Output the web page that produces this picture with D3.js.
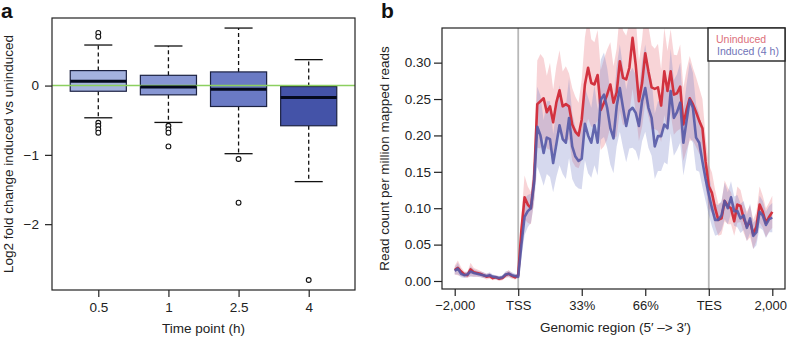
<!DOCTYPE html>
<html><head><meta charset="utf-8">
<script src="https://cdn.jsdelivr.net/npm/d3@7"></script>
<style>body{margin:0;background:#fff}svg{display:block}text{font-family:"Liberation Sans",Arial,sans-serif}</style>
</head><body>
<script>
// ---------- Panel a data ----------
const timeLabels = ["0.5", "1", "2.5", "4"];
const q1 = [-0.082, -0.134, -0.302, -0.58];
const medians = [0.062, -0.019, -0.053, -0.173];
const q3 = [0.216, 0.148, 0.197, -0.014];
const whiskerLow = [-0.465, -0.532, -0.983, -1.386];
const whiskerHigh = [0.585, 0.571, 0.83, 0.374];
const outliers = [[0.76, 0.705, -0.537, -0.58, -0.63, -0.68], [-0.58, -0.63, -0.68, -0.878], [-1.06, -1.69], [-2.806]];
const boxColors = ["#a4b2df", "#8796d3", "#6a7ac4", "#4453a8"];
const yTicksA = [-2, -1, 0];

// ---------- Panel b data ----------
const xTickLabels = ["\u22122,000", "TSS", "33%", "66%", "TES", "2,000"];
const yTicksB = [0, 0.05, 0.10, 0.15, 0.20, 0.25, 0.30];
const uninduced = [0.015,0.018,0.013,0.009,0.008,0.016,0.012,0.011,0.010,0.008,0.006,0.007,0.004,0.005,0.003,0.004,0.008,0.010,0.007,0.005,0.008,
 0.070,0.115,0.105,0.100,0.140,0.243,0.247,0.251,0.232,0.240,0.218,0.245,0.262,0.240,0.243,0.240,0.215,0.205,0.200,0.222,0.270,0.293,0.272,0.270,0.283,
 0.235,0.245,0.256,0.270,0.245,0.259,0.302,0.279,0.277,0.293,0.334,0.297,0.247,0.272,0.313,0.288,0.266,0.264,0.266,0.241,0.288,0.261,0.288,0.256,0.258,0.267,0.215,0.235,0.251,0.243,0.232,0.220,0.210,0.164,
 0.130,0.121,0.100,0.084,0.086,0.110,0.103,0.100,0.082,0.105,0.103,0.086,0.075,0.082,0.064,0.075,0.105,0.095,0.080,0.088,0.095];
const induced = [0.014,0.017,0.010,0.008,0.009,0.013,0.011,0.010,0.009,0.008,0.007,0.008,0.006,0.005,0.004,0.005,0.009,0.010,0.008,0.007,0.006,
 0.050,0.088,0.096,0.100,0.135,0.212,0.200,0.176,0.197,0.195,0.162,0.188,0.214,0.195,0.190,0.224,0.185,0.171,0.165,0.168,0.216,0.200,0.190,0.214,
 0.190,0.249,0.256,0.238,0.210,0.196,0.240,0.265,0.238,0.213,0.234,0.238,0.231,0.213,0.247,0.265,0.238,0.224,0.185,0.199,0.199,0.215,0.210,0.261,0.224,0.232,
 0.245,0.190,0.220,0.249,0.238,0.197,0.190,0.164,0.140,0.119,0.100,0.084,0.084,0.090,0.110,0.100,0.115,0.096,0.096,0.086,0.090,0.073,0.086,0.062,0.067,0.095,0.090,0.077,0.085,0.087];
const uninducedErr = [0.006,0.010,0.006,0.004,0.004,0.009,0.006,0.005,0.004,0.004,0.004,0.004,0.003,0.003,0.003,0.003,0.004,0.005,0.004,0.003,0.004,
 0.020,0.030,0.025,0.022,0.030,0.060,0.065,0.055,0.050,0.060,0.045,0.050,0.055,0.048,0.052,0.045,0.050,0.048,0.045,0.055,0.065,0.070,0.060,0.058,0.062,
 0.055,0.060,0.062,0.058,0.050,0.060,0.068,0.065,0.060,0.062,0.070,0.065,0.055,0.060,0.068,0.062,0.058,0.055,0.060,0.050,0.060,0.055,0.058,0.055,0.052,0.058,0.050,0.055,0.058,0.050,0.048,0.045,0.040,0.035,
 0.030,0.028,0.025,0.022,0.022,0.028,0.025,0.022,0.020,0.025,0.022,0.020,0.020,0.022,0.020,0.020,0.025,0.022,0.020,0.020,0.022];
const inducedErr = [0.005,0.008,0.005,0.004,0.004,0.007,0.005,0.004,0.004,0.004,0.003,0.004,0.003,0.003,0.003,0.003,0.004,0.004,0.004,0.003,0.003,
 0.018,0.025,0.022,0.020,0.028,0.055,0.055,0.045,0.050,0.052,0.040,0.045,0.055,0.048,0.050,0.055,0.045,0.040,0.038,0.042,0.050,0.052,0.048,0.055,0.045,
 0.055,0.058,0.055,0.050,0.048,0.055,0.060,0.055,0.050,0.052,0.055,0.052,0.048,0.055,0.060,0.055,0.052,0.045,0.048,0.048,0.052,0.050,0.058,0.052,0.052,0.055,0.045,0.050,0.052,0.048,0.045,0.040,0.035,0.030,
 0.028,0.025,0.022,0.020,0.020,0.025,0.022,0.022,0.020,0.022,0.020,0.020,0.018,0.020,0.018,0.018,0.022,0.020,0.018,0.018,0.020];

const W = 788, H = 338;
const svg = d3.select("body").append("svg").attr("width", W).attr("height", H);
const FS = 13.5;

// ================= Panel a =================
const A = {l: 52, r: 355, t: 18, b: 290};
const xA = d3.scaleLinear().domain([0.34, 4.66]).range([A.l, A.r]);
const yA = d3.scaleLinear().domain([-2.95, 0.975]).range([A.b, A.t]);
const ga = svg.append("g");
const bw = xA(1.4) - xA(1);  // half box width
const cw = xA(1.2) - xA(1);  // half cap width

timeLabels.forEach((lab, i) => {
  const cx = xA(i + 1);
  ga.append("line").attr("x1", cx).attr("x2", cx).attr("y1", yA(q3[i])).attr("y2", yA(whiskerHigh[i]))
    .attr("stroke", "#111").attr("stroke-width", 1.3).attr("stroke-dasharray", "4,3");
  ga.append("line").attr("x1", cx).attr("x2", cx).attr("y1", yA(q1[i])).attr("y2", yA(whiskerLow[i]))
    .attr("stroke", "#111").attr("stroke-width", 1.3).attr("stroke-dasharray", "4,3");
  [whiskerHigh[i], whiskerLow[i]].forEach(v => {
    ga.append("line").attr("x1", cx - cw).attr("x2", cx + cw).attr("y1", yA(v)).attr("y2", yA(v))
      .attr("stroke", "#111").attr("stroke-width", 1.3);
  });
  ga.append("rect").attr("x", cx - bw).attr("width", 2 * bw)
    .attr("y", yA(q3[i])).attr("height", yA(q1[i]) - yA(q3[i]))
    .attr("fill", boxColors[i]).attr("stroke", "#1c2242").attr("stroke-width", 1.2);
  outliers[i].forEach(v => {
    ga.append("circle").attr("cx", cx).attr("cy", yA(v)).attr("r", 2.4)
      .attr("fill", "#fff").attr("stroke", "#111").attr("stroke-width", 1.1);
  });
});
ga.append("line").attr("x1", A.l).attr("x2", A.r).attr("y1", yA(0)).attr("y2", yA(0))
  .attr("stroke", "#8ccf5f").attr("stroke-width", 1.6);
timeLabels.forEach((lab, i) => {
  const cx = xA(i + 1);
  ga.append("line").attr("x1", cx - bw).attr("x2", cx + bw).attr("y1", yA(medians[i])).attr("y2", yA(medians[i]))
    .attr("stroke", "#050a1e").attr("stroke-width", 3);
});
ga.append("rect").attr("x", A.l).attr("y", A.t).attr("width", A.r - A.l).attr("height", A.b - A.t)
  .attr("fill", "none").attr("stroke", "#222").attr("stroke-width", 1.2);

const axAy = ga.append("g").attr("transform", `translate(${A.l},0)`)
  .call(d3.axisLeft(yA).tickValues(yTicksA).tickSize(7).tickPadding(6).tickFormat(d => d < 0 ? "\u2212" + Math.abs(d) : d));
const axAx = ga.append("g").attr("transform", `translate(0,${A.b})`)
  .call(d3.axisBottom(xA).tickValues([1, 2, 3, 4]).tickSize(7).tickPadding(5).tickFormat((d, i) => timeLabels[i]));
[axAy, axAx].forEach(g => {
  g.select(".domain").remove();
  g.selectAll("line").attr("stroke", "#222").attr("stroke-width", 1.2);
  g.selectAll("text").attr("font-size", FS).attr("fill", "#222").style("font-family", '"Liberation Sans",Arial,sans-serif');
});
ga.append("text").attr("x", (A.l + A.r) / 2).attr("y", 333).attr("text-anchor", "middle")
  .attr("font-size", FS).attr("fill", "#222").text("Time point (h)");
ga.append("text").attr("transform", `translate(13,${(A.t + A.b) / 2}) rotate(-90)`).attr("text-anchor", "middle")
  .attr("font-size", FS).attr("fill", "#222").text("Log2 fold change induced vs uninduced");
svg.append("text").attr("x", 1).attr("y", 18).attr("font-size", 21).attr("font-weight", "bold").attr("fill", "#111").text("a");

// ================= Panel b =================
const B = {l: 442, r: 785, t: 28, b: 289};
const xB = d3.scaleLinear().domain([-0.2, 5.2]).range([B.l, B.r]);
const yB = d3.scaleLinear().domain([-0.011, 0.3476]).range([B.b, B.t]);
const gb = svg.append("g");
gb.append("clipPath").attr("id", "clipb").append("rect")
  .attr("x", B.l).attr("y", B.t).attr("width", B.r - B.l).attr("height", B.b - B.t);
const pos = i => i / 20;
const plot = gb.append("g").attr("clip-path", "url(#clipb)");

[1, 4].forEach(v => {
  plot.append("line").attr("x1", xB(v)).attr("x2", xB(v)).attr("y1", B.t).attr("y2", B.b)
    .attr("stroke", "#b8b8b8").attr("stroke-width", 1.8);
});

const area = (vals, err) => d3.area().x((d, i) => xB(pos(i)))
  .y0((d, i) => yB(vals[i] - err[i])).y1((d, i) => yB(vals[i] + err[i]))(vals);
plot.append("path").attr("d", area(uninduced, uninducedErr)).attr("fill", "rgba(232,120,132,0.32)");
plot.append("path").attr("d", area(induced, inducedErr)).attr("fill", "rgba(120,130,200,0.30)");
const line = d3.line().x((d, i) => xB(pos(i))).y(d => yB(d));
plot.append("path").attr("d", line(uninduced)).attr("fill", "none").attr("stroke", "#d2323f").attr("stroke-width", 2.6).attr("stroke-linejoin", "round");
plot.append("path").attr("d", line(induced)).attr("fill", "none").attr("stroke", "#5559a6").attr("stroke-width", 2.6).attr("stroke-linejoin", "round").attr("opacity", 0.9);

gb.append("rect").attr("x", B.l).attr("y", B.t).attr("width", B.r - B.l).attr("height", B.b - B.t)
  .attr("fill", "none").attr("stroke", "#222").attr("stroke-width", 1.2);

gb.append("rect").attr("x", 708).attr("y", B.t).attr("width", B.r - 708).attr("height", 33)
  .attr("fill", "#fff").attr("stroke", "#222").attr("stroke-width", 1.4);
gb.append("text").attr("x", 716).attr("y", 43).attr("font-size", 10.5).attr("fill", "#dc6f7b").text("Uninduced");
gb.append("text").attr("x", 717).attr("y", 55).attr("font-size", 10.5).attr("fill", "#6f74b8").text("Induced (4 h)");

const axBy = gb.append("g").attr("transform", `translate(${B.l},0)`)
  .call(d3.axisLeft(yB).tickValues(yTicksB).tickSize(8).tickPadding(3).tickFormat(d3.format(".2f")));
const axBx = gb.append("g").attr("transform", `translate(0,${B.b})`)
  .call(d3.axisBottom(xB).tickValues([0, 1, 2, 3, 4, 5]).tickSize(7).tickPadding(5).tickFormat((d, i) => xTickLabels[i]));
[axBy, axBx].forEach(g => {
  g.select(".domain").remove();
  g.selectAll("line").attr("stroke", "#222").attr("stroke-width", 1.2);
  g.selectAll("text").attr("font-size", FS).attr("fill", "#222").style("font-family", '"Liberation Sans",Arial,sans-serif');
});
axBx.selectAll("text").attr("font-size", 13);
axBx.selectAll("text").filter((d, i) => i === 5).attr("dx", "-2");
gb.append("text").attr("x", (B.l + B.r) / 2 + 2).attr("y", 332).attr("text-anchor", "middle")
  .attr("font-size", FS).attr("fill", "#222").text("Genomic region (5\u2032 \u2013> 3\u2032)");
gb.append("text").attr("transform", `translate(389,${(B.t + B.b) / 2}) rotate(-90)`).attr("text-anchor", "middle")
  .attr("font-size", FS).attr("fill", "#222").text("Read count per million mapped reads");
svg.append("text").attr("x", 381).attr("y", 18).attr("font-size", 21).attr("font-weight", "bold").attr("fill", "#111").text("b");
</script>
</body></html>
